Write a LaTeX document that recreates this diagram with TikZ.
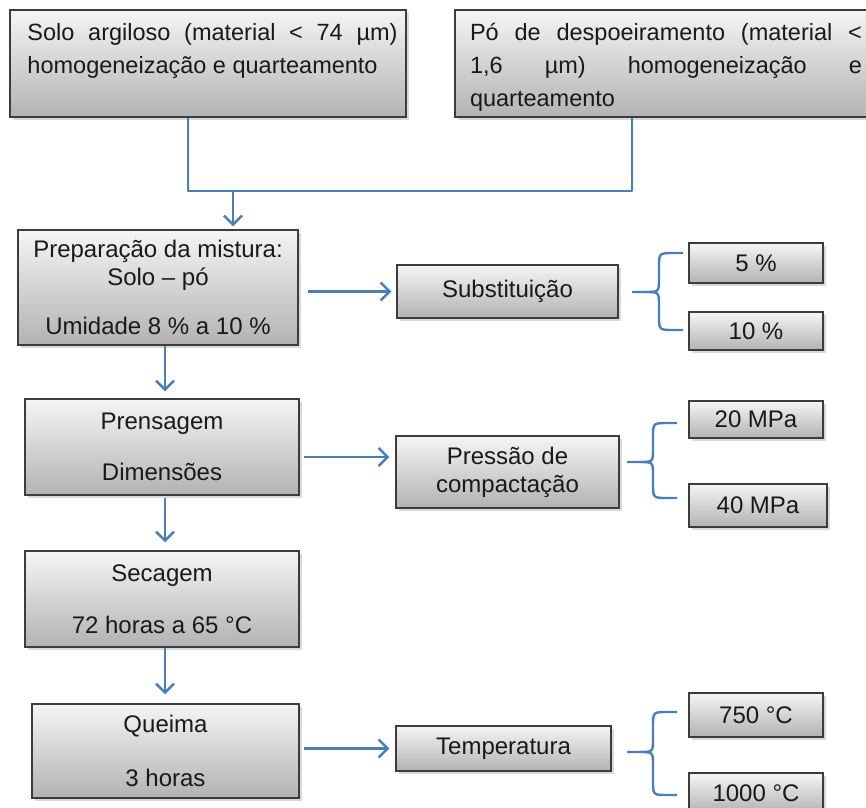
\documentclass[tikz,border=0pt]{standalone}
\usepackage{fontspec}
\setmainfont{Liberation Sans}
\usepackage{xcolor}
\usetikzlibrary{arrows.meta}
\usetikzlibrary{shadows}

\definecolor{azul}{HTML}{4A7EBB}
\definecolor{borda}{HTML}{3C3C3C}

\begin{document}
\begin{tikzpicture}[x=1pt, y=-1pt,
	caixa/.style={draw=borda, line width=1.4pt, top color=black!4, bottom color=black!30,
		drop shadow={shadow xshift=3pt, shadow yshift=-3pt, opacity=0.3},
		inner sep=0pt, text=black!90, align=center, font=\fontsize{24}{28}\selectfont},
	seta/.style={azul, line width=2.4pt, -{Straight Barb[length=9pt,width=18pt]}},
	linha/.style={azul, line width=2.4pt, line join=round}]
				\useasboundingbox (0,0) rectangle (866,807);
				\node[caixa, minimum width=396pt, minimum height=107pt] (Solo) at (208,63.5){\hspace{9pt}\parbox[c][81pt][t]{370pt}{\fontsize{23.5}{33}\selectfont Solo argiloso (material < 74 µm)\linebreak homogeneização e quarteamento}};
				\node[caixa, minimum width=422pt, minimum height=107pt] (Po) at (666,63.5){\parbox[c][81pt][t]{392pt}{\fontsize{23.5}{33}\selectfont Pó de despoeiramento (material <\linebreak 1,6 µm) homogeneização e\linebreak quarteamento}};
				\node[caixa, minimum width=280pt, minimum height=115pt] (Mistura) at (158,287.5){Preparação da mistura:\\Solo – pó\\[21pt]Umidade 8 \% a 10 \%};
				\node[caixa, minimum width=274pt, minimum height=96pt] (Prensagem) at (162,447){Prensagem\\[23pt]Dimensões};
				\node[caixa, minimum width=274pt, minimum height=96pt] (Secagem) at (162,599){Secagem\\[24pt]72 horas a 65 °C};
				\node[caixa, minimum width=267pt, minimum height=94pt] (Queima) at (165.5,751){Queima\\[26pt]3 horas};
				\node[caixa, minimum width=221pt, minimum height=53pt] (Subst) at (507.5,291.5){Substituição};
				\node[caixa, minimum width=223pt, minimum height=72pt] (Pressao) at (507.5,472){Pressão de\\compactação};
				\node[caixa, minimum width=215pt, minimum height=45pt] (Temp) at (503.5,748.5){Temperatura};
				\node[caixa, minimum width=134pt, minimum height=40pt] (P5) at (756,263){5 \%};
				\node[caixa, minimum width=134pt, minimum height=38pt] (P10) at (756,331){10 \%};
				\node[caixa, minimum width=134pt, minimum height=37pt] (M20) at (756,419.5){20 MPa};
				\node[caixa, minimum width=138pt, minimum height=43pt] (M40) at (758,505.5){40 MPa};
				\node[caixa, minimum width=134pt, minimum height=44pt] (T750) at (756,715){750 °C};
				\node[caixa, minimum width=134pt, minimum height=40pt] (T1000) at (756,793){1000 °C};
				\coordinate (Ja) at (188,191);
				\coordinate (Jb) at (632,191);
				\coordinate (Jc) at (233,191);
				\coordinate (Col) at (165,0);
				\draw[linha] (Solo.south -| Ja) -- (Ja) -- (Jb) -- (Po.south -| Jb);
				\draw[seta, shorten >=3pt] (Jc) -- (Mistura.north -| Jc);
				\draw[seta, shorten >=7pt] (Mistura.south -| Col) -- (Prensagem.north -| Col);
				\draw[seta, shorten <=2pt, shorten >=8pt] (Prensagem.south -| Col) -- (Secagem.north -| Col);
				\draw[seta, shorten >=9pt] (Secagem.south -| Col) -- (Queima.north -| Col);
				\draw[seta, shorten <=9pt, shorten >=5pt] (Mistura.east |- Subst.west) -- (Subst.west);
				\draw[seta, shorten <=4pt, shorten >=6pt] ([yshift=-10pt]Prensagem.east) -- ([yshift=-10pt]Prensagem.east -| Pressao.west);
				\draw[seta, shorten <=4pt, shorten >=6pt] (Queima.east |- Temp.west) -- (Temp.west);
				\draw[linha] (683,253) -- (674,253) .. controls (659,253) .. (659,267) -- (659,278) .. controls (659,292) .. (645,292) -- (632,292);
				\draw[linha] (645,292) .. controls (659,292) .. (659,306) -- (659,316) .. controls (659,330) .. (674,330) -- (683,330);
				\draw[linha] (677,423) -- (668,423) .. controls (653,423) .. (653,437) -- (653,448) .. controls (653,462) .. (640,462) -- (627,462);
				\draw[linha] (640,462) .. controls (653,462) .. (653,476) -- (653,484) .. controls (653,498) .. (668,498) -- (677,498);
				\draw[linha] (677,712) -- (668,712) .. controls (653,712) .. (653,726) -- (653,738) .. controls (653,752) .. (640,752) -- (627,752);
				\draw[linha] (640,752) .. controls (653,752) .. (653,766) -- (653,781) .. controls (653,795) .. (668,795) -- (677,795);
			\end{tikzpicture}
\end{document}
